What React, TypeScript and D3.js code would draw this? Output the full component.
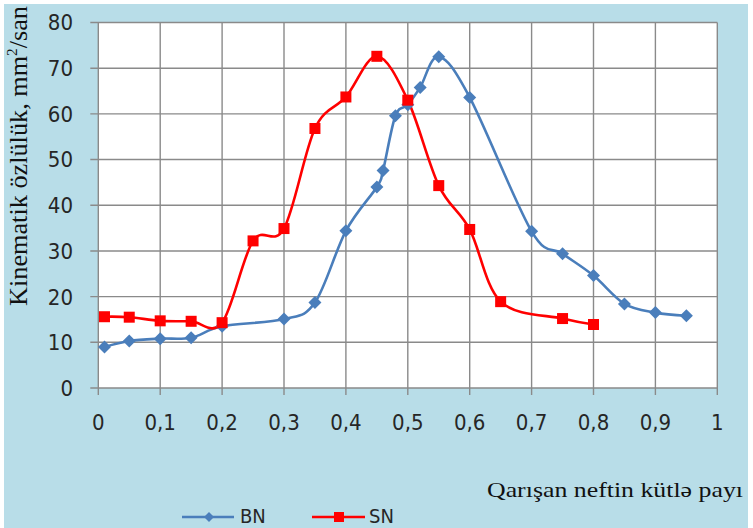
import React from 'react';
import * as d3 from 'd3';

// constants
const width = 753;
const height = 528;
const margin = { top: 22.5, right: 34, bottom: 140, left: 98.3 };

// data
const bnX = [0.01, 0.05, 0.1, 0.15, 0.2, 0.3, 0.35, 0.4, 0.45, 0.46, 0.48, 0.5, 0.52, 0.55, 0.6, 0.7, 0.75, 0.8, 0.85, 0.9, 0.95];
const bnY = [9, 10.3, 10.8, 11, 13.5, 15.1, 18.7, 34.4, 44, 47.6, 59.6, 62, 65.8, 72.5, 63.6, 34.3, 29.4, 24.6, 18.4, 16.5, 15.8];
const snX = [0.01, 0.05, 0.1, 0.15, 0.2, 0.25, 0.3, 0.35, 0.4, 0.45, 0.5, 0.55, 0.6, 0.65, 0.75, 0.8];
const snY = [15.6, 15.5, 14.7, 14.6, 14.3, 32.2, 34.9, 56.8, 63.7, 72.6, 63, 44.3, 34.7, 18.9, 15.2, 13.9];
const xTicks = [0, 0.1, 0.2, 0.3, 0.4, 0.5, 0.6, 0.7, 0.8, 0.9, 1];
const yTicks = [0, 10, 20, 30, 40, 50, 60, 70, 80];

const blue = '#4a7ebb';
const red = '#ff0000';
const tickFont = "'Liberation Sans Narrow', 'DejaVu Sans Condensed', sans-serif";
const serif = "'Liberation Serif', 'DejaVu Serif', serif";

const App = () => {
  const x = d3.scaleLinear().domain([0, 1]).range([margin.left, width - margin.right - 1.7]);
  const y = d3.scaleLinear().domain([0, 80]).range([388, margin.top]);

  const line = d3.line<[number, number]>()
    .x(d => x(d[0]))
    .y(d => y(d[1]))
    .curve(d3.curveCardinal.tension(0));

  const bn: [number, number][] = bnX.map((v, i) => [v, bnY[i]]);
  const sn: [number, number][] = snX.map((v, i) => [v, snY[i]]);

  const diamond = (cx: number, cy: number, r = 6.5) =>
    `M${cx},${cy - r}L${cx + r},${cy}L${cx},${cy + r}L${cx - r},${cy}Z`;

  return (
    <svg width={width} height={height} style={{ position: 'absolute', left: 0, top: 0 }}>
      <rect x={0} y={0} width={width} height={height} fill="#ffffff" />
      <rect x={4} y={4} width={744} height={524} fill="#b8dde8" />
      <rect x={x(0)} y={y(80)} width={x(1) - x(0)} height={y(0) - y(80)} fill="#ffffff" />

      {/* grid */}
      {yTicks.map(t => (
        <line key={'gy' + t} x1={x(0) - 8} x2={x(1)} y1={y(t)} y2={y(t)} stroke="#8a8a8a" strokeWidth={1.4} />
      ))}
      {xTicks.map(t => (
        <line key={'gx' + t} x1={x(t)} x2={x(t)} y1={y(80)} y2={y(0) + 7} stroke="#8a8a8a" strokeWidth={1.4} />
      ))}

      {/* tick labels */}
      {yTicks.map(t => (
        <text key={'ty' + t} x={73} y={y(t)} dy="0.36em" textAnchor="end"
          fontFamily={tickFont} fontSize={22} fill="#262626">{t}</text>
      ))}
      {xTicks.map(t => (
        <text key={'tx' + t} x={x(t)} y={430} textAnchor="middle"
          fontFamily={tickFont} fontSize={22} fill="#262626">{String(t).replace('.', ',')}</text>
      ))}

      {/* series */}
      <path d={line(bn) ?? ''} fill="none" stroke={blue} strokeWidth={2.6} />
      <path d={line(sn) ?? ''} fill="none" stroke={red} strokeWidth={2.6} />
      {bn.map((d, i) => (
        <path key={'bm' + i} d={diamond(x(d[0]), y(d[1]))} fill={blue} />
      ))}
      {sn.map((d, i) => (
        <rect key={'sm' + i} x={x(d[0]) - 5.5} y={y(d[1]) - 5.5} width={11} height={11} fill={red} />
      ))}

      {/* axis titles */}
      <text transform="translate(27,306) rotate(-90)" textAnchor="start" fontFamily={serif}
        fontSize={26} fill="#111" textLength={300} lengthAdjust="spacingAndGlyphs">
        Kinematik özlülük, mm<tspan fontSize={15} dy={-10}>2</tspan><tspan dy={10}>/san</tspan>
      </text>
      <text x={487} y={497} fontFamily={serif} fontSize={22} fill="#111"
        textLength={256} lengthAdjust="spacingAndGlyphs">Qarışan neftin kütlə payı</text>

      {/* legend */}
      <line x1={182} x2={234} y1={517} y2={517} stroke={blue} strokeWidth={2.6} />
      <path d={diamond(209, 517, 5)} fill={blue} />
      <text x={240} y={523} fontFamily={tickFont} fontSize={20} fill="#262626">BN</text>
      <line x1={312} x2={365} y1={517} y2={517} stroke={red} strokeWidth={2.6} />
      <rect x={334} y={512} width={10} height={10} fill={red} />
      <text x={369} y={523} fontFamily={tickFont} fontSize={20} fill="#262626">SN</text>
    </svg>
  );
};

export default App;
